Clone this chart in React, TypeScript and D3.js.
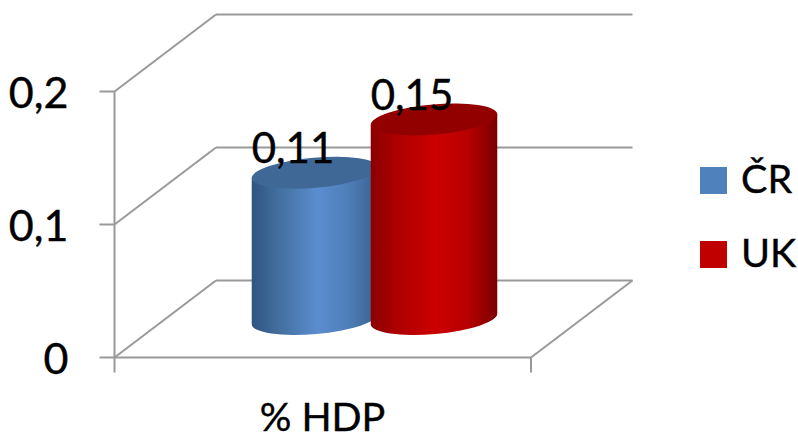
import React, { useEffect, useRef } from 'react';
import * as d3 from 'd3';

const series = ['ČR', 'UK'];
const values = [0.11, 0.15];
const valueLabels = ['0,11', '0,15'];
const yTicks = [0, 0.1, 0.2];
const yTickLabels = ['0', '0,1', '0,2'];
const category = '% HDP';

const sideStops = [
  ['#2f5480', '#8a0000'],
  ['#44709f', '#b00000'],
  ['#5a8dd0', '#cc0000'],
  ['#4f7fb8', '#b80000'],
  ['#38608f', '#7a0000'],
];
const stopOffsets = ['0%', '22%', '52%', '76%', '100%'];
const topColors = ['#3f6896', '#930000'];
const legendColors = ['#4f81bd', '#c00000'];

const FONT = 'Lato, "Open Sans", sans-serif';
const GRID = '#999999';

export default function App() {
  const svgRef = useRef<SVGSVGElement>(null);

  useEffect(() => {
    if (!svgRef.current) return;
    const svg = d3.select(svgRef.current);
    svg.selectAll('*').remove();

    const y = d3.scaleLinear().domain([0, 0.2]).range([357.5, 91.5]);
    const x = d3.scalePoint<string>().domain(series).range([315, 434]);
    const left = 114.5;
    const right = 531;
    const depthX = 101.5;
    const depthY = -77;

    const line = (x1: number, y1: number, x2: number, y2: number) =>
      svg.append('line')
        .attr('x1', x1).attr('y1', y1).attr('x2', x2).attr('y2', y2)
        .attr('stroke', GRID).attr('stroke-width', 2);

    // Walls and floor
    yTicks.forEach(t => {
      line(left, y(t), left + depthX, y(t) + depthY);
      line(left + depthX, y(t) + depthY, right + depthX, y(t) + depthY);
      line(left - 15, y(t), left, y(t));
    });
    line(left, y(0.2), left, y(0) + 15);
    line(left, y(0), right, y(0));
    line(right, y(0), right, y(0) + 15);
    line(right, y(0), right + depthX, y(0) + depthY);

    // Gradients for the cylinder sides
    const defs = svg.append('defs');
    series.forEach((s, i) => {
      const grad = defs.append('linearGradient').attr('id', `side-${i}`);
      sideStops.forEach((c, k) => {
        grad.append('stop').attr('offset', stopOffsets[k]).attr('stop-color', c[i]);
      });
    });

    // Cylinders
    const rx = 63.5;
    const ry = 15;
    const tilt = -5;
    const baseLift = 38.5;
    const cos = Math.cos((tilt * Math.PI) / 180);
    const sin = Math.sin((tilt * Math.PI) / 180);

    series.forEach((s, i) => {
      const cx = x(s) as number;
      const base = y(0) - baseLift;
      const top = base - (y(0) - y(values[i]));
      const dx = rx * cos;
      const dy = rx * sin;
      svg.append('path')
        .attr('d', `M${cx - dx},${top - dy} L${cx - dx},${base - dy} A${rx},${ry} ${tilt} 0 0 ${cx + dx},${base + dy} L${cx + dx},${top + dy} Z`)
        .attr('fill', `url(#side-${i})`);
      svg.append('ellipse')
        .attr('rx', rx).attr('ry', ry)
        .attr('transform', `translate(${cx},${top}) rotate(${tilt})`)
        .attr('fill', topColors[i]);
    });

    const text = (tx: number, ty: number, label: string, anchor: string, size = 42) =>
      svg.append('text')
        .attr('x', tx).attr('y', ty)
        .attr('text-anchor', anchor)
        .attr('font-family', FONT)
        .attr('font-size', size)
        .attr('fill', '#000')
        .attr('stroke', '#000')
        .attr('stroke-width', 0.4)
        .text(label);

    // Value labels
    series.forEach((s, i) => {
      const top = y(values[i]) - baseLift;
      text((x(s) as number) - 22, top - 10, valueLabels[i], 'middle');
    });

    // Axis labels
    yTicks.forEach((t, i) => {
      text(68.5, y(t) + 16.5, yTickLabels[i], 'end', 43);
    });
    text(322.5, 430.5, category, 'middle', 39.5);

    // Legend
    series.forEach((s, i) => {
      const ly = 167 + i * 74;
      svg.append('rect')
        .attr('x', 700).attr('y', ly).attr('width', 27).attr('height', 27)
        .attr('fill', legendColors[i]);
      text(741, ly + 26, s, 'start', 39.5);
    });
  }, []);

  return (
    <svg
      ref={svgRef}
      width={798}
      height={434}
      style={{ position: 'absolute', left: 0, top: 0, background: '#fff' }}
    />
  );
}
